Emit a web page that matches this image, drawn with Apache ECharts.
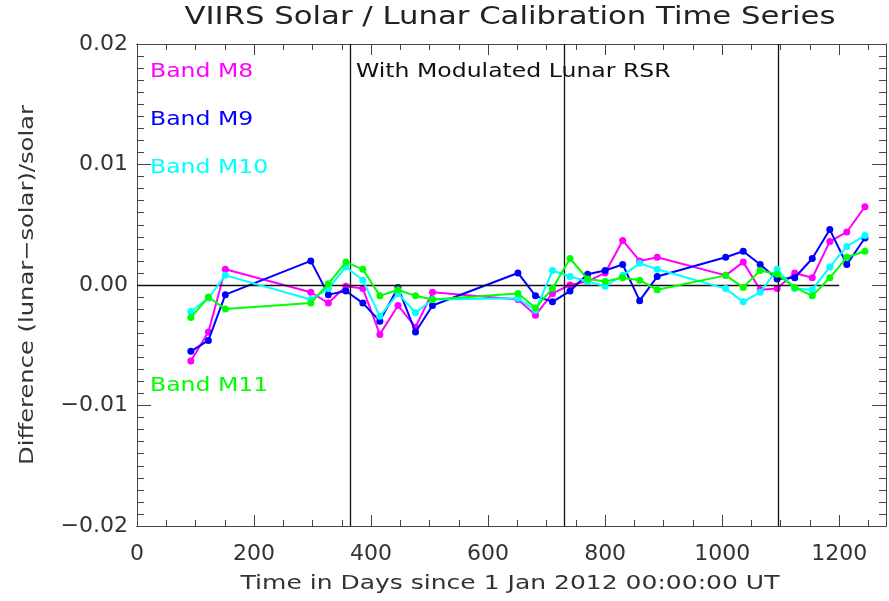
<!DOCTYPE html>
<html>
<head>
<meta charset="utf-8">
<script src="https://cdn.jsdelivr.net/npm/echarts@6/dist/echarts.min.js"></script>
<style>
html,body{margin:0;padding:0;background:#fff;}
#chart{width:889px;height:601px;}
</style>
</head>
<body>
<div id="chart"></div>
<script>
// ---- data ----
const days = [92,122,151,297,327,357,386,415,446,476,505,651,681,710,740,770,800,830,859,889,1006,1036,1065,1094,1124,1154,1184,1213,1244];
const bandM8 = [-0.0063,-0.0039,0.0013,-0.0006,-0.0015,-0.0001,-0.0003,-0.0041,-0.0017,-0.0035,-0.0006,-0.0012,-0.0025,-0.0007,0.0000,0.0003,0.0010,0.0037,0.0020,0.0023,0.0008,0.0019,-0.0004,-0.0003,0.0010,0.0006,0.0036,0.0044,0.0065];
const bandM9 = [-0.0055,-0.0046,-0.0008,0.0020,-0.0008,-0.0005,-0.0015,-0.0030,-0.0002,-0.0039,-0.0017,0.0010,-0.0009,-0.0014,-0.0005,0.0009,0.0012,0.0017,-0.0013,0.0007,0.0023,0.0028,0.0017,0.0005,0.0006,0.0022,0.0046,0.0017,0.0039];
const bandM10 = [-0.0022,-0.0011,0.0008,-0.0012,-0.0003,0.0015,0.0004,-0.0026,-0.0007,-0.0023,-0.0012,-0.0011,-0.0021,0.0012,0.0007,0.0003,-0.0001,0.0008,0.0018,0.0013,-0.0003,-0.0014,-0.0006,0.0013,-0.0003,-0.0004,0.0015,0.0032,0.0041];
const bandM11 = [-0.0027,-0.0010,-0.0020,-0.0015,0.0001,0.0019,0.0013,-0.0009,-0.0004,-0.0009,-0.0012,-0.0007,-0.0019,-0.0003,0.0022,0.0005,0.0003,0.0006,0.0004,-0.0004,0.0008,-0.0002,0.0012,0.0009,-0.0002,-0.0009,0.0006,0.0023,0.0028];
const yearBoundaries = [365, 731, 1096];
const zeroLineRange = [0, 1200];
const yTickLabels = ['\u22120.02','\u22120.01','0.00','0.01','0.02'];
const xTickLabels = ['0','200','400','600','800','1000','1200'];
const bandNames = ['Band M8','Band M9','Band M10','Band M11'];
const bandColors = ['#ff00ff','#0000ff','#00ffff','#00ff00'];
const titleText = 'VIIRS Solar / Lunar Calibration Time Series';
const xAxisTitle = 'Time in Days since 1 Jan 2012 00:00:00 UT';
const yAxisTitle = 'Difference (lunar\u2212solar)/solar';
const noteText = 'With Modulated Lunar RSR';

const FONT = 'DejaVu Sans';
const AXIS_COLOR = '#444';
const TXT = '#333';
const WIDEN = 1.24;

function pairs(ys){ return days.map((d,i)=>[d, ys[i]]); }

const chart = echarts.init(document.getElementById('chart'), null, {renderer:'canvas'});

const baseX = {
  type:'value', min:0, max:1280, gridIndex:0,
  axisLine:{show:true, onZero:false, lineStyle:{color:AXIS_COLOR, width:1}},
  splitLine:{show:false}
};
const baseY = {
  type:'value', min:-0.02, max:0.02, interval:0.01,
  axisLine:{show:true, onZero:false, lineStyle:{color:AXIS_COLOR, width:1}},
  axisTick:{show:true, inside:true, length:14, lineStyle:{color:AXIS_COLOR}},
  minorTick:{show:true, splitNumber:10, length:7, lineStyle:{color:AXIS_COLOR}},
  splitLine:{show:false}
};

const lineSeries = [bandM8, bandM9, bandM10, bandM11].map((ys, i) => ({
  name: bandNames[i],
  type:'line',
  data: pairs(ys),
  xAxisIndex:0, yAxisIndex:0,
  symbol:'circle', symbolSize:7,
  lineStyle:{color:bandColors[i], width:2},
  itemStyle:{color:bandColors[i]},
  z: 3 + i,
  animation:false
}));

const refSeries = {
  type:'line', data:[], xAxisIndex:0, yAxisIndex:0, z:2, silent:true,
  markLine:{
    symbol:'none', silent:true, animation:false,
    label:{show:false},
    lineStyle:{color:'#111', width:1.3, type:'solid'},
    data: yearBoundaries.map(d => ({xAxis:d}))
      .concat([[{coord:[zeroLineRange[0],0]},{coord:[zeroLineRange[1],0]}]])
  }
};

function wideText(text, x, y, opts){
  return {
    type:'text', x:x, y:y, scaleX: opts.scale || WIDEN, rotation: opts.rotation || 0,
    style:{text:text, fill:opts.color || TXT, font:(opts.size||19)+'px "DejaVu Sans"',
      align: opts.align || 'left', verticalAlign:'middle'}
  };
}

const option = {
  backgroundColor:'#fff',
  animation:false,
  grid:{left:137, right:3, top:44, bottom:75, containLabel:false},
  xAxis:[
    Object.assign({}, baseX, {
      position:'bottom', interval:200,
      axisTick:{show:true, inside:true, length:11, lineStyle:{color:AXIS_COLOR}},
      axisLabel:{show:true, margin:17, fontFamily:FONT, fontSize:22, color:TXT, showMaxLabel:false,
        formatter:(v, idx) => xTickLabels[idx] !== undefined ? xTickLabels[idx] : ''}
    }),
    Object.assign({}, baseX, {
      position:'bottom', interval:50,
      axisTick:{show:true, inside:true, length:6, lineStyle:{color:AXIS_COLOR}},
      axisLabel:{show:false}
    }),
    Object.assign({}, baseX, {
      position:'top', interval:200,
      axisTick:{show:true, inside:true, length:11, lineStyle:{color:AXIS_COLOR}},
      axisLabel:{show:false}
    }),
    Object.assign({}, baseX, {
      position:'top', interval:50,
      axisTick:{show:true, inside:true, length:6, lineStyle:{color:AXIS_COLOR}},
      axisLabel:{show:false}
    })
  ],
  yAxis:[
    Object.assign({}, baseY, {
      position:'left',
      axisLabel:{show:true, margin:9, fontFamily:FONT, fontSize:22, color:TXT,
        formatter:(v, idx) => yTickLabels[idx]}
    }),
    Object.assign({}, baseY, {
      position:'right',
      axisLabel:{show:false}
    })
  ],
  graphic:[
    wideText(titleText, 510, 18, {size:24, align:'center', color:'#222', scale:1.28}),
    wideText(xAxisTitle, 510, 584, {size:20, align:'center', scale:1.25}),
    wideText(yAxisTitle, 28, 285, {size:20, align:'center', rotation:Math.PI/2, scale:1.21}),
    wideText(bandNames[0], 150, 72, {color:bandColors[0]}),
    wideText(bandNames[1], 150, 120, {color:bandColors[1]}),
    wideText(bandNames[2], 150, 168, {color:bandColors[2]}),
    wideText(bandNames[3], 150, 386, {color:bandColors[3]}),
    wideText(noteText, 356, 72, {color:'#111'})
  ],
  series:[refSeries].concat(lineSeries)
};

chart.setOption(option);
</script>
</body>
</html>
